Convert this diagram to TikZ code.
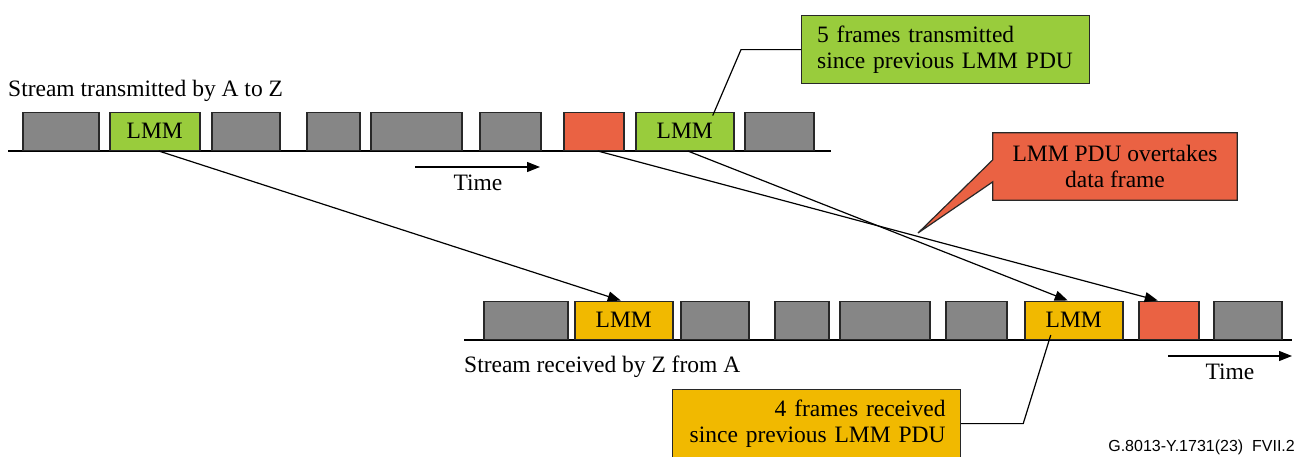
\documentclass[tikz,border=0pt]{standalone}
\usepackage{fontspec}
\setmainfont{Liberation Serif}
\newfontfamily\figsans{Liberation Sans}
\usetikzlibrary{arrows.meta,calc,backgrounds}
\definecolor{pktgray}{RGB}{134,134,134}
\definecolor{lmmgreen}{RGB}{153,204,60}
\definecolor{lmmyellow}{RGB}{241,185,0}
\definecolor{datared}{RGB}{234,98,67}
\definecolor{edgegray}{RGB}{40,40,40}
\tikzset{
  pkt/.style={draw=edgegray, line width=1.5pt, fill=pktgray, anchor=south west, inner sep=0pt, minimum height=38pt},
  lmmtx/.style={pkt, fill=lmmgreen},
  lmmrx/.style={pkt, fill=lmmyellow},
  lost/.style={pkt, fill=datared},
  note/.style={draw=edgegray, line width=1.2pt, inner ysep=0pt, minimum height=68pt, anchor=north west},
  flow/.style={line width=1.2pt, -{Triangle[length=13pt,width=10pt]}},
  leader/.style={line width=1.2pt},
  label/.style={inner sep=0pt, anchor=base west},
}

\begin{document}
\begin{tikzpicture}[x=1pt, y=-1pt, font=\fontsize{23.5}{26.5}\selectfont]
  \useasboundingbox (0,0) rectangle (1306,456);
  % sent by A
  \draw[leader] (8,151) -- (831,151);
  \node[label] (txlab) at (8,96) {Stream transmitted by A to Z};
  \node[pkt, minimum width=76pt] (t1) at (22,151) {};
  \node[lmmtx, minimum width=90pt] (t2) at (109,151) {LMM};
  \node[pkt, minimum width=68pt] (t3) at (211,151) {};
  \node[pkt, minimum width=53pt] (t4) at (306,151) {};
  \node[pkt, minimum width=91pt] (t5) at (370,151) {};
  \node[pkt, minimum width=61pt] (t6) at (479,151) {};
  \node[lost, minimum width=60pt] (t7) at (563,151) {};
  \node[lmmtx, minimum width=98pt] (t8) at (635,151) {LMM};
  \node[pkt, minimum width=69pt] (t9) at (744,151) {};
  \coordinate (ta0) at (415,167);
  \coordinate (ta1) at (540,167);
  \draw[flow] (ta0) -- (ta1);
  \node[inner sep=0pt, anchor=base] (time1) at (478,190) {Time};

  % received by Z
  \draw[leader] (464,340) -- (1292,340);
  \node[label] (rxlab) at (464,372) {Stream received by Z from A};
  \node[pkt, minimum width=84pt] (b1) at (483,340) {};
  \node[lmmrx, minimum width=98pt] (b2) at (574,340) {LMM};
  \node[pkt, minimum width=68pt] (b3) at (680,340) {};
  \node[pkt, minimum width=54pt] (b4) at (774,340) {};
  \node[pkt, minimum width=90pt] (b5) at (839,340) {};
  \node[pkt, minimum width=61pt] (b6) at (945,340) {};
  \node[lmmrx, minimum width=98pt] (b7) at (1024,340) {LMM};
  \node[lost, minimum width=60pt] (b8) at (1138,340) {};
  \node[pkt, minimum width=68pt] (b9) at (1213,340) {};
  \coordinate (ba0) at (1168,356);
  \coordinate (ba1) at (1292,356);
  \draw[flow] (ba0) -- (ba1);
  \node[inner sep=0pt, anchor=base] (time2) at (1230,379) {Time};

  % frames in flight
  \draw[flow] ($(t2.south)+(4,0)$) -- ($(b2.north)+(-3,0)$);
  \draw[flow] ($(t7.south)+(4,0)$) -- ($(b8.north)+(-11,0)$);
  \draw[flow] ($(t8.south)+(3,0)$) -- ($(b7.north)+(-6,0)$);

  % callouts
  \node[note, fill=lmmgreen, inner xsep=15.5pt, text width=257pt, align=left] (g5) at (801,15)
    {5 frames transmitted\\since previous LMM PDU};
  \draw[leader] ($(t8.north)+(28,4)$) -- ($(g5.west)+(-60,0)$) -- (g5.west);

  \node[note, fill=lmmyellow, inner xsep=15pt, text width=258pt, align=right] (y4) at (672,389)
    {4 frames received\\since previous LMM PDU};
  \draw[leader] ($(b7.south)+(-23,-5)$) -- ($(y4.east)+(62,0)$) -- (y4.east);

  \node[inner sep=0pt, minimum width=244pt, minimum height=67pt, align=center] (ovt) at (1115,166.5)
    {LMM PDU overtakes\\data frame};
  \coordinate (ovtip) at (918,233);
  \begin{scope}[on background layer]
    \draw[leader, draw=edgegray, fill=datared] (ovt.north west) -- (ovt.north east) -- (ovt.south east)
      -- (ovt.south west) -- ($(ovt.north west)+(0,49)$) -- (ovtip) -- ($(ovt.north west)+(0,27)$) -- cycle;
  \end{scope}

  \node[inner sep=0pt, anchor=base east, font=\figsans\fontsize{16}{18}\selectfont] (figid) at (1295,451)
    {G.8013-Y.1731(23)\ \ FVII.2};
\end{tikzpicture}
\end{document}
